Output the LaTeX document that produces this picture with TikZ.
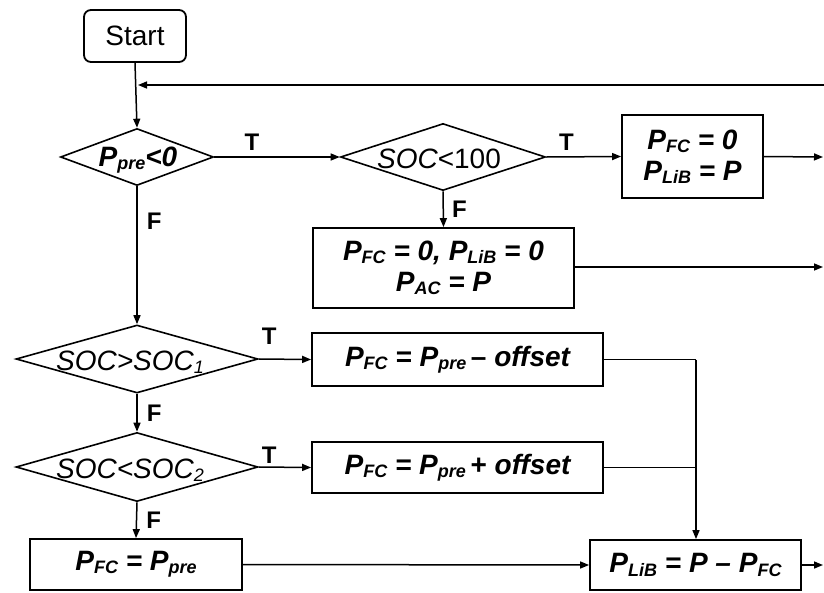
\documentclass[tikz,border=0pt]{standalone}
\usepackage{fontspec}
\setmainfont{Liberation Sans}
\usetikzlibrary{arrows.meta,shapes.geometric}
\newcommand{\sbs}[1]{\raisebox{-0.12em}{\fontsize{18}{18}\selectfont #1}}
\begin{document}
\begin{tikzpicture}[x=1pt,y=-1pt,
  ar/.style={line width=1.5pt,-{Triangle[length=9pt,width=7pt]}},
  ln/.style={line width=1.5pt},
  box/.style={draw,line width=1.8pt,inner sep=0pt,align=center,font=\fontsize{28}{31}\selectfont\bfseries\itshape},
  dia/.style={draw,diamond,line width=1.6pt,inner sep=0pt},
  dtxt/.style={inner sep=0pt,font=\fontsize{28}{30}\selectfont\itshape},
  lab/.style={inner sep=0pt,font=\fontsize{24}{24}\selectfont\bfseries}]
\useasboundingbox (0,0) rectangle (824,592);
% nodes
\node[draw,rounded corners=7pt,line width=1.8pt,minimum width=102pt,minimum height=52pt,inner sep=0pt,font=\fontsize{28}{28}\selectfont] (start) at (135,36) {Start};
\node[dia,minimum width=153pt,minimum height=57pt] (d1) at (137,157) {};
\node[dtxt,font=\fontsize{28}{30}\selectfont\bfseries\itshape] (d1t) at (138,160) {P\sbs{pre}<0};
\node[dia,minimum width=205pt,minimum height=67pt] (d2) at (443,157) {};
\node[dtxt] (d2t) at (439,159) {SOC\upshape<100};
\node[dia,minimum width=242pt,minimum height=68pt] (d3) at (137,359) {};
\node[dtxt] (d3t) at (130,362) {SOC>SOC\sbs{1}};
\node[dia,minimum width=242pt,minimum height=69pt] (d4) at (137,467) {};
\node[dtxt] (d4t) at (130,470) {SOC<SOC\sbs{2}};
\node[box,minimum width=141pt,minimum height=83pt] (b1) at (692.5,156.5) {P\sbs{FC} = 0\\P\sbs{LiB} = P};
\node[box,minimum width=261pt,minimum height=80pt] (b2) at (443.5,268) {P\sbs{FC} = 0, P\sbs{LiB} = 0\\P\sbs{AC} = P};
\node[box,minimum width=291pt,minimum height=53pt] (b3) at (457.5,359.5) {P\sbs{FC} = P\sbs{pre}\,\upshape--\itshape\ offset};
\node[box,minimum width=291pt,minimum height=51pt] (b4) at (457.5,467.5) {P\sbs{FC} = P\sbs{pre}\,\upshape+\itshape\ offset};
\node[box,minimum width=212pt,minimum height=51pt] (b5) at (136,564.5) {P\sbs{FC} = P\sbs{pre}};
\node[box,minimum width=211pt,minimum height=50pt] (b6) at (695.5,565) {P\sbs{LiB} = P -- P\sbs{FC}};
% coordinates
\coordinate (fbR) at (824,85);
\coordinate (fbL) at (138,85);
\coordinate (r1) at (823,157);
\coordinate (r2) at (823,267);
\coordinate (r3) at (823,565);
\coordinate (j1) at (696,359.5);
\coordinate (j2) at (696,467.5);
% connectors
\draw[ar] (start.south) -- (d1.north);
\draw[ar] (fbR) -- (fbL);
\draw[ar] (d1.east) -- (d2.west) node[lab,pos=0.3,above=6pt] (t1) {T};
\draw[ar] (d2.east) -- (b1.west) node[lab,pos=0.27,above=6pt] (t2) {T};
\draw[ar] (b1.east) -- (r1);
\draw[ar] (d2.south) -- (b2.north) node[lab,midway,right=8pt] (f2) {F};
\draw[ar] (b2.east |- r2) -- (r2);
\draw[ar] (d1.south) -- (d3.north) node[lab,pos=0.25,right=9pt] (f1) {F};
\draw[ar] (d3.east) -- (b3.west) node[lab,pos=0.2,above=14pt] (t3) {T};
\draw[ar] (d3.south) -- (d4.north) node[lab,midway,right=9pt] (f3) {F};
\draw[ar] (d4.east) -- (b4.west) node[lab,pos=0.2,above=3pt] (t4) {T};
\draw[ar] (d4.south) -- (b5.north) node[lab,midway,right=9pt] (f4) {F};
\draw[ar] (b5.east) -- (b6.west);
\draw[ln] (b3.east) -- (j1);
\draw[ln] (b4.east) -- (j2);
\draw[ar] (j1) -- (b6.north -| j1);
\draw[ar] (b6.east) -- (r3);
\end{tikzpicture}
\end{document}
